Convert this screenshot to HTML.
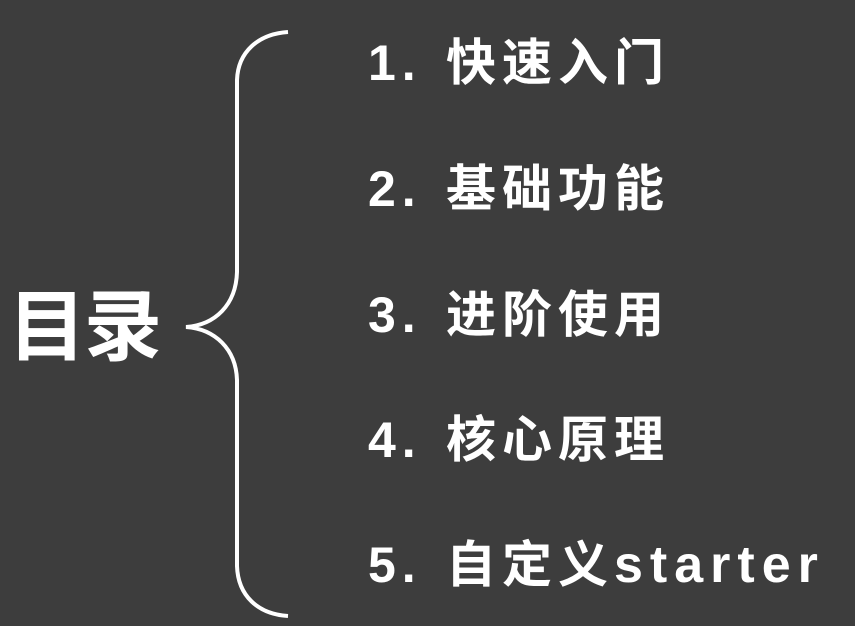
<!DOCTYPE html>
<html><head><meta charset="utf-8"><style>
body{margin:0;width:855px;height:626px;background:#3d3d3d;overflow:hidden;position:relative;font-family:"Liberation Sans","Noto Sans CJK SC",sans-serif;color:#fff;font-weight:bold}
.t{position:absolute;left:368px;font-size:50px;line-height:60px;white-space:nowrap;letter-spacing:6px}
.t b{display:inline-block;width:78px}
.t i{font-style:normal;font-size:52px;letter-spacing:7px}
.m{position:absolute;left:8px;top:282px;font-size:78px;line-height:90px;letter-spacing:-2px}
</style></head><body>
<svg width="855" height="626" style="position:absolute;left:0;top:0">
<path d="M288 32 C258 34 238 52 237 80 L237 272 C236 305 215 325 186 327 C215 329 236 349 237 380 L237 566 C238 596 258 614 288 616" fill="none" stroke="#fff" stroke-width="4"/>
</svg>
<div class="m">目录</div>
<div class="t" style="top:33px"><b>1.</b>快速入门</div>
<div class="t" style="top:159px"><b>2.</b>基础功能</div>
<div class="t" style="top:285px"><b>3.</b>进阶使用</div>
<div class="t" style="top:410px"><b>4.</b>核心原理</div>
<div class="t" style="top:535px"><b>5.</b>自定义<i>starter</i></div>
</body></html>
